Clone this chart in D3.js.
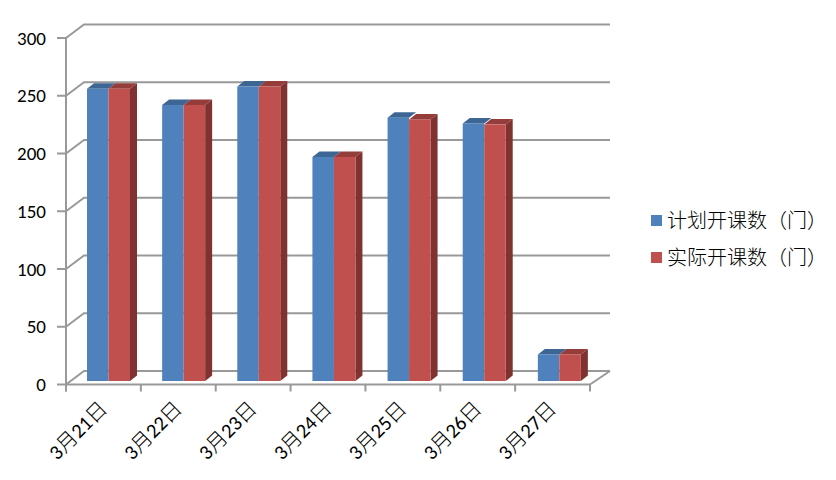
<!DOCTYPE html>
<html><head><meta charset="utf-8">
<script src="https://cdn.jsdelivr.net/npm/d3@7/dist/d3.min.js"></script>
<style>html,body{margin:0;padding:0;background:#fff}svg{display:block}</style>
</head><body><svg id="c" width="836" height="480"></svg>
<script>
const categories=["3月21日","3月22日","3月23日","3月24日","3月25日","3月26日","3月27日"];
const planned=[253,239,255,194,228,223,23];
const actual=[253,239,255,194,226.5,222,23];
const seriesNames=["计划开课数（门）","实际开课数（门）"];
const yTicks=[0,50,100,150,200,250,300];

const svg=d3.select("#c");
const L=66,R=590,B=384.5,T=38,dx=18,dy=-13.5;
const x=d3.scaleBand().domain(categories).range([L,R]);
const barX=d3.scaleBand().domain(categories).range([L,R+2]);
const y=d3.scaleLinear().domain([0,300]).range([B,T]);
const grid="#999999";
const g=svg.append("g").attr("fill","none").attr("stroke",grid).attr("stroke-width",2);
yTicks.forEach(t=>{
  g.append("path").attr("d",`M${L},${y(t)}L${L+dx},${y(t)+dy}L${R+dx+2},${y(t)+dy}`);
  g.append("line").attr("x1",L-9).attr("x2",L).attr("y1",y(t)).attr("y2",y(t));
});
g.append("path").attr("d",`M${R},${B}L${R+dx+2},${B+dy}`);
g.append("line").attr("x1",L).attr("x2",L).attr("y1",T).attr("y2",B+7);
g.append("line").attr("x1",L).attr("x2",R).attr("y1",B).attr("y2",B);
categories.forEach(c=>g.append("line").attr("x1",x(c)).attr("x2",x(c)).attr("y1",B).attr("y2",B+7));
g.append("line").attr("x1",R).attr("x2",R).attr("y1",B).attr("y2",B+7);

const barW=21.5,ox=21,oy=-3.5,sd=7,td=-5.5;
const cols=[{f:"#4F81BD",t:"#3D6695"},{f:"#C0504D",t:"#953D3B"}];
const bars=svg.append("g");
[planned,actual].forEach((vals,si)=>{
  const c=cols[si];
  vals.forEach((v,i)=>{
    const x0=barX(categories[i])+ox+si*barW, x1=x0+barW, yt=y(v)+oy, yb=y(0)+oy;
    bars.append("path").attr("fill",c.t).attr("d",`M${x0},${yt}L${x0+sd},${yt+td}L${x1+sd},${yt+td}L${x1},${yt}Z`);
    if(si===1) bars.append("path").attr("fill","#7F3230").attr("d",`M${x1},${yt}L${x1+sd},${yt+td}L${x1+sd},${yb+td}L${x1},${yb}Z`);
    bars.append("rect").attr("x",x0).attr("y",yt).attr("width",barW).attr("height",yb-yt).attr("fill",c.f);
  });
});

const numFont="Carlito,'Open Sans','Liberation Sans',sans-serif";
svg.append("g").selectAll("text").data(yTicks).join("text")
  .attr("x",46).attr("y",d=>y(d)+6.5).attr("text-anchor","end")
  .attr("font-family",numFont).attr("font-size",19).attr("fill","#000").text(d=>d);
svg.append("g").selectAll("text").data(categories).join("text")
  .attr("transform",d=>`translate(${x(d)+x.bandwidth()/2+1.5},${B+22}) rotate(-45)`)
  .attr("text-anchor","end").attr("dominant-baseline","middle")
  .attr("font-family","Carlito,'Noto Sans CJK SC',sans-serif").attr("font-size",20.5).attr("font-weight",300).attr("fill","#000").text(d=>d);
seriesNames.forEach((n,i)=>{
  const ly=220.5+i*37;
  svg.append("rect").attr("x",651).attr("y",ly-5.5).attr("width",11).attr("height",11).attr("fill",cols[i].f);
  svg.append("text").attr("x",667).attr("y",ly+7).attr("font-family","'Noto Sans CJK SC',sans-serif")
    .attr("font-weight",300).attr("font-size",20).attr("fill","#000").text(n);
});
</script></body></html>
